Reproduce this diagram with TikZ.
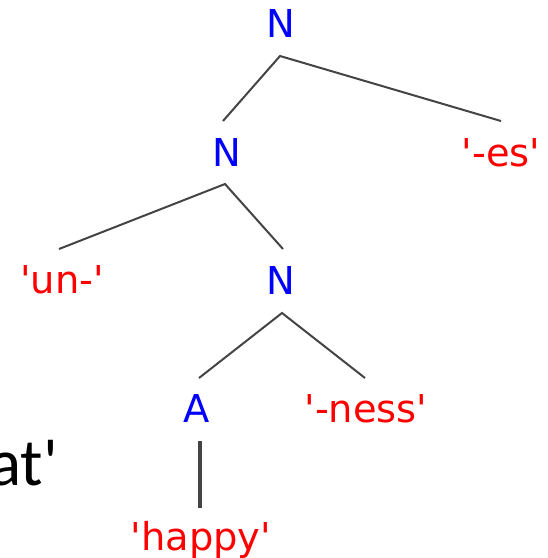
\documentclass[tikz,border=0pt]{standalone}
\usepackage{fontspec}
\usetikzlibrary{calc}
\newfontfamily\dvfont{DejaVu Sans}
\newfontfamily\carfont{Carlito}
\definecolor{edgegray}{HTML}{444444}
\definecolor{catblue}{RGB}{0,0,255}
\definecolor{morphred}{RGB}{255,0,0}
\begin{document}
\begin{tikzpicture}[x=1pt,y=-1pt,
  lbl/.style={inner sep=0pt,anchor=base,font=\dvfont\fontsize{38.4}{40}\selectfont},
  cat/.style={lbl,text=catblue},
  morph/.style={lbl,text=morphred},
  edge/.style={draw=edgegray,line width=2pt},
  stem/.style={draw=edgegray,line width=4pt}]
\useasboundingbox (0,0) rectangle (548,558);
\node[cat] (n1) at (281,37) {N};
\node[cat] (n2) at (227,166) {N};
\node[morph] (es) at (501,166) {'-es'};
\node[morph] (un) at (62,293) {'un-'};
\node[cat] (n3) at (281,294) {N};
\node[cat] (a) at (197,422) {A};
\node[morph] (ness) at (366,422) {'-ness'};
\node[morph] (happy) at (201,550) {'happy'};
\node[inner sep=0pt,anchor=base west,font=\carfont\fontsize{67}{70}\selectfont] (cat) at (-11,485) {at'};
% connectors
\draw[edge] ($(n2.base)+(-4,-45)$) -- ($(n1.base)+(-1,19)$) -- ($(es.base)+(0,-45)$);
\draw[edge] ($(un.base)+(-3,-44)$) -- ($(n2.base)+(-2,18)$) -- ($(n3.base)+(2,-45)$);
\draw[edge] ($(a.base)+(2,-44)$) -- ($(n3.base)+(1,19)$) -- ($(ness.base)+(-1,-44)$);
\draw[stem] ($(a.base)+(3,19)$) -- ($(happy.base)+(-1,-42)$);
\end{tikzpicture}
\end{document}
